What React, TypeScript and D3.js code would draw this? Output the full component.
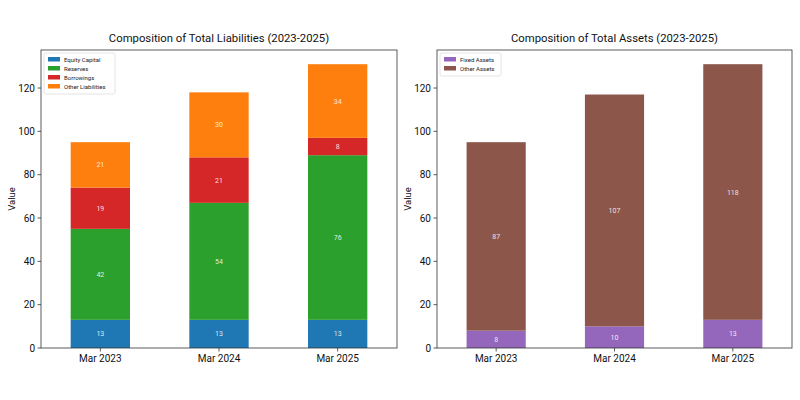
import React from "react";
import * as d3 from "d3";

// data
const periods = ["Mar 2023", "Mar 2024", "Mar 2025"];

const liabilityNames = ["Equity Capital", "Reserves", "Borrowings", "Other Liabilities"];
const equityCapital = [13, 13, 13];
const reserves = [42, 54, 76];
const borrowings = [19, 21, 8];
const otherLiabilities = [21, 30, 34];

const assetNames = ["Fixed Assets", "Other Assets"];
const fixedAssets = [8, 10, 13];
const otherAssets = [87, 107, 118];

const yTicks = [0, 20, 40, 60, 80, 100, 120];

const FONT = "Roboto, 'Open Sans', sans-serif";

type Panel = {
  title: string;
  names: string[];
  series: number[][];
  colors: string[];
  left: number;
  right: number;
  legendW: number;
};

const top = 50;
const bottom = 348;

// both panels share the same y range (largest stacked total + 5% headroom)
const yMaxOf = (all: number[][][]) => {
  const totals = all.flatMap((series) => periods.map((_, i) => d3.sum(series, (s) => s[i])));
  return (d3.max(totals) as number) * 1.05;
};

const StackPanel = ({ p, yMax }: { p: Panel; yMax: number }) => {
  const x = d3.scaleLinear().domain([-0.5, periods.length - 0.5]).range([p.left, p.right]);
  const y = d3.scaleLinear().domain([0, yMax]).range([bottom, top]);
  const barW = x(0.25) - x(-0.25);

  const rows = periods.map((_, i) => {
    const obj: Record<string, number> = {};
    p.names.forEach((n, k) => (obj[n] = p.series[k][i]));
    return obj;
  });
  const stacked = d3.stack<Record<string, number>>().keys(p.names)(rows);

  return (
    <g>
      <text x={(p.left + p.right) / 2} y={42} textAnchor="middle" fontSize={11.3} fontFamily={FONT} fill="#111">
        {p.title}
      </text>
      <text
        transform={`translate(${p.left - 26},${(top + bottom) / 2}) rotate(-90)`}
        textAnchor="middle"
        fontSize={9.5}
        fontFamily={FONT}
        fill="#111"
      >
        Value
      </text>

      {stacked.map((layer, k) =>
        layer.map((d, i) => (
          <g key={k + "-" + i}>
            <rect
              x={x(i) - barW / 2}
              y={y(d[1])}
              width={barW}
              height={y(d[0]) - y(d[1])}
              fill={p.colors[k]}
            />
            <text
              x={x(i)}
              y={(y(d[0]) + y(d[1])) / 2 + 2.5}
              textAnchor="middle"
              fontSize={7}
              fontFamily={FONT}
              fill="#ffffff"
              fillOpacity={0.85}
            >
              {d[1] - d[0]}
            </text>
          </g>
        ))
      )}

      {/* axes frame */}
      <rect x={p.left} y={top} width={p.right - p.left} height={bottom - top} fill="none" stroke="#333" strokeWidth={0.8} />

      {yTicks.map((t) => (
        <g key={t}>
          <line x1={p.left - 3.5} x2={p.left} y1={y(t)} y2={y(t)} stroke="#333" strokeWidth={0.8} />
          <text x={p.left - 6} y={y(t) + 3.5} textAnchor="end" fontSize={10} fontFamily={FONT} fill="#111">
            {t}
          </text>
        </g>
      ))}
      {periods.map((c, i) => (
        <g key={c}>
          <line x1={x(i)} x2={x(i)} y1={bottom} y2={bottom + 3.5} stroke="#333" strokeWidth={0.8} />
          <text x={x(i)} y={bottom + 14} textAnchor="middle" fontSize={10} fontFamily={FONT} fill="#111">
            {c}
          </text>
        </g>
      ))}

      {/* legend */}
      <rect
        x={p.left + 3}
        y={top + 3}
        width={p.legendW}
        height={p.names.length * 9 + 5}
        fill="#fff"
        fillOpacity={0.8}
        stroke="#ddd"
        strokeWidth={0.8}
        rx={2}
      />
      {p.names.map((n, k) => (
        <g key={n}>
          <rect x={p.left + 7} y={top + 7 + k * 9} width={12} height={4.5} fill={p.colors[k]} />
          <text x={p.left + 23} y={top + 11.5 + k * 9} fontSize={6} fontFamily={FONT} fill="#222">
            {n}
          </text>
        </g>
      ))}
    </g>
  );
};

const App = () => {
  const panels: Panel[] = [
    {
      title: "Composition of Total Liabilities (2023-2025)",
      names: liabilityNames,
      series: [equityCapital, reserves, borrowings, otherLiabilities],
      colors: ["#1f77b4", "#2ca02c", "#d62728", "#ff7f0e"],
      left: 41,
      right: 397,
      legendW: 71,
    },
    {
      title: "Composition of Total Assets (2023-2025)",
      names: assetNames,
      series: [fixedAssets, otherAssets],
      colors: ["#9467bd", "#8c564b"],
      left: 437,
      right: 792,
      legendW: 61,
    },
  ];
  const yMax = yMaxOf(panels.map((p) => p.series));
  return (
    <svg width={800} height={400} style={{ position: "absolute", left: 0, top: 0, background: "#fff" }}>
      <rect width={800} height={400} fill="#fff" />
      {panels.map((p) => (
        <StackPanel key={p.title} p={p} yMax={yMax} />
      ))}
    </svg>
  );
};

export default App;
